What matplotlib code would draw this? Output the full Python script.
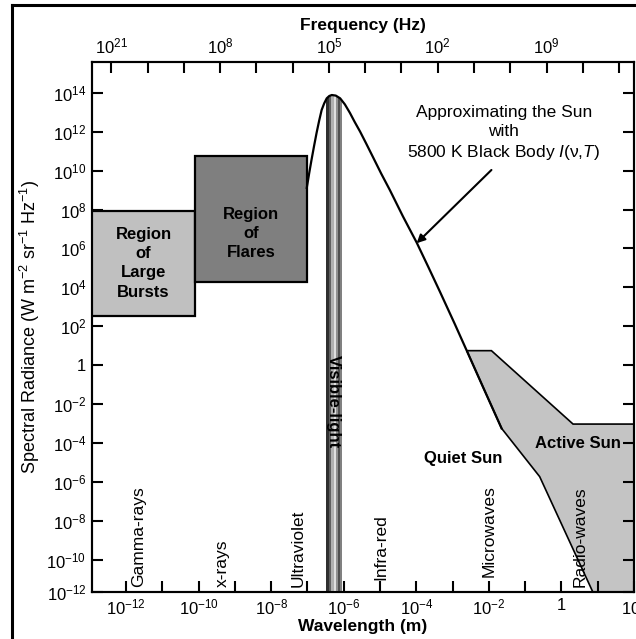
import matplotlib
matplotlib.use('Agg')
import matplotlib.pyplot as plt
import numpy as np
from matplotlib.patches import Polygon
from matplotlib.lines import Line2D
from matplotlib.ticker import FixedLocator, FixedFormatter, NullLocator

plt.rcParams['font.family'] = ['Liberation Sans', 'DejaVu Sans']
plt.rcParams['mathtext.fontset'] = 'custom'
plt.rcParams['mathtext.rm'] = 'Liberation Sans'
plt.rcParams['mathtext.it'] = 'Liberation Sans:italic'
plt.rcParams['mathtext.bf'] = 'Liberation Sans:bold'

# values are log10: wavelength in m, radiance in W m-2 sr-1 Hz-1
bb_log_wl = [-7.02, -6.95, -6.89, -6.82, -6.75, -6.68, -6.61, -6.54, -6.47, -6.40,
             -6.33, -6.22, -6.10, -5.97, -5.83, -5.70, -5.55, -5.38, -5.20, -4.97,
             -4.73, -4.37, -3.99, -3.67, -3.35, -2.94, -2.61, -2.13, -1.65]
bb_log_rad = [9.11, 9.90, 10.54, 11.25, 11.93, 12.55, 13.11, 13.45, 13.71, 13.83,
              13.88, 13.85, 13.71, 13.40, 12.96, 12.50, 12.00, 11.38, 10.71, 9.85,
              9.00, 7.65, 6.30, 5.05, 3.78, 2.12, 0.75, -1.25, -3.24]

bursts_log_wl = [-13.2, -10.10]
bursts_log_rad = [2.55, 7.92]
flares_log_wl = [-10.10, -7.02]
flares_log_rad = [4.29, 10.76]

active_log_wl = [-2.61, -1.93, 0.32, 2.5, 2.5, 1.20, -0.60, -1.65, -2.13]
active_log_rad = [0.75, 0.75, -3.02, -3.02, -13.0, -13.0, -5.72, -3.24, -1.25]

visible_edges = [-6.49, -6.42, -6.36, -6.27, -6.22, -6.15, -6.10, -6.06]
visible_greys = ['#303030', '#606060', '#b0b0b0', '#e0e0e0', '#909090', '#505050', '#808080']

band_names = ['Gamma-rays', 'x-rays', 'Ultraviolet', 'Infra-red', 'Microwaves', 'Radio-waves']
band_log_wl = [-11.66, -9.36, -7.27, -4.99, -2.0, 0.51]
band_log_rad = [-11.37, -11.39, -11.39, -11.03, -10.87, -11.37]

x_tick_exps = list(range(-12, 3))
x_tick_labels = [r'$10^{%d}$' % e if e % 2 == 0 and e != 0 else ('1' if e == 0 else '')
                 for e in x_tick_exps]
y_tick_exps = [-11.66, -10, -8, -6, -4, -2, 0, 2, 4, 6, 8, 10, 12, 14]
y_tick_labels = [r'$10^{-12}$', r'$10^{-10}$', r'$10^{-8}$', r'$10^{-6}$', r'$10^{-4}$',
                 r'$10^{-2}$', '1', r'$10^{2}$', r'$10^{4}$', r'$10^{6}$', r'$10^{8}$',
                 r'$10^{10}$', r'$10^{12}$', r'$10^{14}$']
freq_tick_exps = [-12.41, -11.41, -10.41, -9.41, -8.41, -7.41, -6.41, -5.41,
                  -4.41, -3.41, -2.41, -1.41, -0.41, 0.59, 1.59]
freq_labels = [r'$10^{21}$', '', '', r'$10^{8}$', '', '', r'$10^{5}$', '', '',
               r'$10^{2}$', '', '', r'$10^{9}$', '', '']

p = lambda v: 10.0 ** np.array(v, dtype=float)

fig = plt.figure(figsize=(6.36, 6.39), dpi=100)
ax = fig.add_axes([92 / 636, 1 - 592.3 / 639, 542 / 636, 530 / 639])
ax.set_xscale('log')
ax.set_yscale('log')
ax.set_xlim(10 ** -12.94, 10 ** 2)
ax.set_ylim(10 ** -11.66, 10 ** 15.56)

# boxes
bx, by = p(bursts_log_wl), p(bursts_log_rad)
ax.fill([bx[0], bx[1], bx[1], bx[0]], [by[0], by[0], by[1], by[1]],
        facecolor='#c0c0c0', edgecolor='black', lw=1.6, zorder=2)
fx, fy = p(flares_log_wl), p(flares_log_rad)
ax.fill([fx[0], fx[1], fx[1], fx[0]], [fy[0], fy[0], fy[1], fy[1]],
        facecolor='#7f7f7f', edgecolor='black', lw=1.6, zorder=2)

# active sun region
ax.fill(p(active_log_wl), p(active_log_rad), facecolor='#c4c4c4',
        edgecolor='black', lw=1.2, zorder=1.5)

# black body curve
bw, br = p(bb_log_wl), p(bb_log_rad)
ax.plot(bw, br, color='black', lw=1.6, zorder=4)

# visible light band, clipped under the curve
clip = Polygon(np.column_stack([np.r_[bw, bw[-1], bw[0]], np.r_[br, 1e-20, 1e-20]]),
               closed=True, transform=ax.transData)
for i, c in enumerate(visible_greys):
    s = ax.axvspan(10 ** visible_edges[i], 10 ** visible_edges[i + 1], color=c, lw=0, zorder=3)
    s.set_clip_path(clip)
ax.text(10 ** -6.28, 10 ** -1.89, 'Visible-light', rotation=270, ha='center', va='center',
        fontsize=12, fontweight='bold', zorder=5)

# texts
ax.text(10 ** -11.52, 10 ** 5.24, 'Region\nof\nLarge\nBursts', ha='center', va='center',
        fontsize=12, fontweight='bold', linespacing=1.35)
ax.text(10 ** -8.56, 10 ** 6.78, 'Region\nof\nFlares', ha='center', va='center',
        fontsize=12, fontweight='bold', linespacing=1.35)
ax.text(10 ** -2.71, 10 ** -4.78, 'Quiet Sun', ha='center', va='center',
        fontsize=12, fontweight='bold')
ax.text(10 ** 0.46, 10 ** -4.04, 'Active Sun', ha='center', va='center',
        fontsize=12, fontweight='bold', zorder=5)
ax.text(10 ** -1.59, 10 ** 11.91,
        'Approximating the Sun\nwith\n5800 K Black Body $I$(ν,$T$)',
        ha='center', va='center', fontsize=12.5, linespacing=1.3)
ax.annotate('', xy=(10 ** -3.99, 10 ** 6.27), xytext=(10 ** -1.93, 10 ** 10.03),
            arrowprops=dict(arrowstyle='-|>', color='black', lw=1.5,
                            mutation_scale=12, shrinkA=0, shrinkB=0), zorder=5)

for name, lx, ly in zip(band_names, band_log_wl, band_log_rad):
    ax.text(10 ** lx, 10 ** ly, name, rotation=90, ha='center', va='bottom',
            fontsize=12.5, zorder=5)

# axes and ticks
ax.xaxis.set_major_locator(FixedLocator(p(x_tick_exps)))
ax.xaxis.set_major_formatter(FixedFormatter(x_tick_labels))
ax.xaxis.set_minor_locator(NullLocator())
ax.yaxis.set_major_locator(FixedLocator(p(y_tick_exps)))
ax.yaxis.set_major_formatter(FixedFormatter(y_tick_labels))
ax.yaxis.set_minor_locator(NullLocator())
ax.tick_params(which='major', direction='in', length=8, width=1.5, labelsize=12,
               left=True, right=True, bottom=True, top=False, pad=4)
for sp in ax.spines.values():
    sp.set_linewidth(1.5)
ax.set_xlabel('Wavelength (m)', fontsize=12.5, fontweight='bold', labelpad=1)
ax.set_ylabel(r'Spectral Radiance (W m$^{-2}$ sr$^{-1}$ Hz$^{-1}$)', fontsize=13, labelpad=3)

ax2 = ax.twiny()
ax2.set_xscale('log')
ax2.set_xlim(ax.get_xlim())
ax2.xaxis.set_major_locator(FixedLocator(p(freq_tick_exps)))
ax2.xaxis.set_major_formatter(FixedFormatter(freq_labels))
ax2.xaxis.set_minor_locator(NullLocator())
ax2.tick_params(which='major', direction='in', length=8, width=1.5, labelsize=12, pad=4)
for sp in ax2.spines.values():
    sp.set_linewidth(1.5)
ax2.set_xlabel('Frequency (Hz)', fontsize=12.5, fontweight='bold', labelpad=5)

# outer frame (left and top edges visible)
fig.add_artist(Line2D([11.7 / 636, 11.7 / 636], [0, 1 - 5 / 639], transform=fig.transFigure,
                      color='black', lw=2.2))
fig.add_artist(Line2D([11.7 / 636, 1], [1 - 5 / 639, 1 - 5 / 639], transform=fig.transFigure,
                      color='black', lw=2.2))

fig.savefig('out.png', dpi=100)
